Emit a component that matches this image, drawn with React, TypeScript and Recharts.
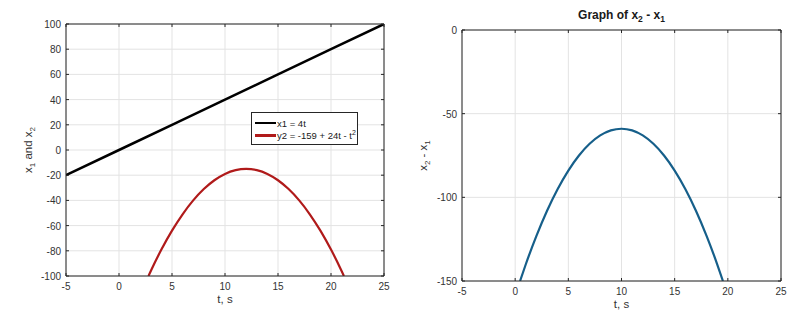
import React from 'react';
import { LineChart, Line, XAxis, YAxis, CartesianGrid, Legend } from 'recharts';

const T_X1 = [-5, 0, 5, 10, 15, 20, 25];
const X1_VALUES = [-20, 0, 20, 40, 60, 80, 100];

const T_X2 = [2.78, 3, 4, 5, 6, 7, 8, 9, 10, 11, 12, 13, 14, 15, 16, 17, 18, 19, 20, 21, 21.22];
const X2_VALUES = [-100, -96, -79, -64, -51, -40, -31, -24, -19, -16, -15, -16, -19, -24, -31, -40, -51, -64, -79, -96, -100];

const T_DIFF = [0.46, 1, 2, 3, 4, 5, 6, 7, 8, 9, 10, 11, 12, 13, 14, 15, 16, 17, 18, 19, 19.54];
const DIFF_VALUES = [-150, -140, -123, -108, -95, -84, -75, -68, -63, -60, -59, -60, -63, -68, -75, -84, -95, -108, -123, -140, -150];

const X_TICKS = [-5, 0, 5, 10, 15, 20, 25];
const Y_TICKS_LEFT = [-100, -80, -60, -40, -20, 0, 20, 40, 60, 80, 100];
const Y_TICKS_RIGHT = [-150, -100, -50, 0];

const NAME_X1 = 'x1 = 4t';
const NAME_X2 = 'y2 = -159 + 24t - t^2';

const x1Data = T_X1.map((t, i) => ({ t, v: X1_VALUES[i] }));
const x2Data = T_X2.map((t, i) => ({ t, v: X2_VALUES[i] }));
const diffData = T_DIFF.map((t, i) => ({ t, v: DIFF_VALUES[i] }));

const FONT = '"Liberation Sans", Arial, Helvetica, sans-serif';
const AXIS = '#262626';
const TXT = '#333333';
const GRID = '#e3e3e3';
const TICK_LEN = 3;
const TICK_FS = 10;

const BottomTick = (props: any) => {
  const { x, y, payload } = props;
  return (
    <g>
      <line x1={x} x2={x} y1={y} y2={y - TICK_LEN} stroke={AXIS} strokeWidth={1} />
      <text x={x} y={y + 14} textAnchor="middle" fill={TXT} fontSize={TICK_FS} fontFamily={FONT}>
        {payload.value}
      </text>
    </g>
  );
};

const TopTick = (props: any) => {
  const { x, y } = props;
  return <line x1={x} x2={x} y1={y} y2={y + TICK_LEN} stroke={AXIS} strokeWidth={1} />;
};

const LeftTick = (props: any) => {
  const { x, y, payload } = props;
  return (
    <g>
      <line x1={x} x2={x + TICK_LEN} y1={y} y2={y} stroke={AXIS} strokeWidth={1} />
      <text x={x - 5} y={y + 4} textAnchor="end" fill={TXT} fontSize={TICK_FS} fontFamily={FONT}>
        {payload.value}
      </text>
    </g>
  );
};

const RightTick = (props: any) => {
  const { x, y } = props;
  return <line x1={x} x2={x - TICK_LEN} y1={y} y2={y} stroke={AXIS} strokeWidth={1} />;
};

const xLabel = (props: any) => {
  const vb = props.viewBox || {};
  const cx = vb.x + vb.width / 2;
  return (
    <text x={cx} y={vb.y + 27} textAnchor="middle" fill={TXT} fontSize={11.5} fontFamily={FONT}>
      t, s
    </text>
  );
};

const makeYLabel = (dx: number, first: string, second: string, mid: string) => (props: any) => {
  const vb = props.viewBox || {};
  const cx = vb.x + dx;
  const cy = vb.y + vb.height / 2;
  return (
    <text
      x={cx}
      y={cy}
      transform={`rotate(-90 ${cx} ${cy})`}
      textAnchor="middle"
      fill={TXT}
      fontSize={11.5}
      fontFamily={FONT}
    >
      x<tspan dy={3} fontSize={8}>{first}</tspan>
      <tspan dy={-3}>{mid}x</tspan>
      <tspan dy={3} fontSize={8}>{second}</tspan>
    </text>
  );
};

const titleLabel = (props: any) => {
  const vb = props.viewBox || {};
  const cx = vb.x + vb.width / 2;
  return (
    <text x={cx} y={vb.y - 10} textAnchor="middle" fill="#1a1a1a" fontSize={12} fontWeight="bold" fontFamily={FONT}>
      Graph of x<tspan dy={3} fontSize={8.5}>2</tspan>
      <tspan dy={-3}> - x</tspan>
      <tspan dy={3} fontSize={8.5}>1</tspan>
    </text>
  );
};

const renderName = (name: string) => {
  const idx = name.indexOf('^');
  if (idx < 0) return name;
  return (
    <>
      {name.slice(0, idx)}
      <sup style={{ fontSize: 7, lineHeight: 0 }}>{name.slice(idx + 1)}</sup>
    </>
  );
};

const LegendBox = (props: any) => {
  const payload = props.payload || [];
  return (
    <div
      style={{
        boxSizing: 'border-box',
        width: 107,
        height: 33,
        border: `1px solid ${AXIS}`,
        background: '#fff',
        padding: '4px 0 0 3px',
        fontFamily: FONT,
        fontSize: 9.5,
        color: '#1a1a1a',
      }}
    >
      {payload.map((p: any) => (
        <div key={p.value} style={{ display: 'flex', alignItems: 'center', height: 12.3 }}>
          <span
            style={{
              display: 'inline-block',
              width: 21,
              height: 2.5,
              background: p.color,
              marginRight: 1,
            }}
          />
          <span style={{ whiteSpace: 'nowrap' }}>{renderName(p.value)}</span>
        </div>
      ))}
    </div>
  );
};

export default function App() {
  return (
    <div style={{ position: 'absolute', left: 0, top: 0, width: 800, height: 322, background: '#fff', fontFamily: FONT }}>
      <div style={{ position: 'absolute', left: 0, top: 0 }}>
        <LineChart width={400} height={322} margin={{ top: 23, right: 15, bottom: 16, left: 0 }}>
          <CartesianGrid xAxisId="b" yAxisId="l" stroke={GRID} strokeWidth={1} />
          <XAxis
            xAxisId="b"
            type="number"
            dataKey="t"
            domain={[-5, 25]}
            ticks={X_TICKS}
            allowDataOverflow
            height={30}
            tickSize={0}
            tickMargin={0}
            tickLine={false}
            axisLine={{ stroke: AXIS }}
            tick={BottomTick}
            interval={0}
            label={xLabel}
          />
          <XAxis
            xAxisId="t"
            orientation="top"
            type="number"
            dataKey="t"
            domain={[-5, 25]}
            ticks={X_TICKS}
            allowDataOverflow
            height={1}
            tickSize={0}
            tickMargin={0}
            tickLine={false}
            axisLine={{ stroke: AXIS }}
            tick={TopTick}
            interval={0}
          />
          <YAxis
            yAxisId="l"
            type="number"
            domain={[-100, 100]}
            ticks={Y_TICKS_LEFT}
            allowDataOverflow
            width={66}
            tickSize={0}
            tickMargin={0}
            tickLine={false}
            axisLine={{ stroke: AXIS }}
            tick={LeftTick}
            interval={0}
            label={makeYLabel(32, '1', '2', ' and ')}
          />
          <YAxis
            yAxisId="r"
            orientation="right"
            type="number"
            domain={[-100, 100]}
            ticks={Y_TICKS_LEFT}
            allowDataOverflow
            width={1}
            tickSize={0}
            tickMargin={0}
            tickLine={false}
            axisLine={{ stroke: AXIS }}
            tick={RightTick}
            interval={0}
          />
          <Line
            xAxisId="b"
            yAxisId="l"
            data={x1Data}
            dataKey="v"
            name={NAME_X1}
            stroke="#000000"
            strokeWidth={2.5}
            dot={false}
            type="linear"
            isAnimationActive={false}
          />
          <Line
            xAxisId="b"
            yAxisId="l"
            data={x2Data}
            dataKey="v"
            name={NAME_X2}
            stroke="#b01a1a"
            strokeWidth={2.2}
            dot={false}
            type="monotone"
            isAnimationActive={false}
          />
          <Legend
            layout="vertical"
            align="center"
            verticalAlign="middle"
            content={LegendBox}
            wrapperStyle={{ left: 251, top: 112, width: 107, height: 33 }}
          />
        </LineChart>
      </div>
      <div style={{ position: 'absolute', left: 400, top: 0 }}>
        <LineChart width={400} height={322} margin={{ top: 29, right: 18, bottom: 11, left: 0 }}>
          <CartesianGrid xAxisId="b" yAxisId="l" stroke={GRID} strokeWidth={1} />
          <XAxis
            xAxisId="b"
            type="number"
            dataKey="t"
            domain={[-5, 25]}
            ticks={X_TICKS}
            allowDataOverflow
            height={30}
            tickSize={0}
            tickMargin={0}
            tickLine={false}
            axisLine={{ stroke: AXIS }}
            tick={BottomTick}
            interval={0}
            label={xLabel}
          />
          <XAxis
            xAxisId="t"
            orientation="top"
            type="number"
            dataKey="t"
            domain={[-5, 25]}
            ticks={X_TICKS}
            allowDataOverflow
            height={1}
            tickSize={0}
            tickMargin={0}
            tickLine={false}
            axisLine={{ stroke: AXIS }}
            tick={TopTick}
            interval={0}
            label={titleLabel}
          />
          <YAxis
            yAxisId="l"
            type="number"
            domain={[-150, 0]}
            ticks={Y_TICKS_RIGHT}
            allowDataOverflow
            width={62}
            tickSize={0}
            tickMargin={0}
            tickLine={false}
            axisLine={{ stroke: AXIS }}
            tick={LeftTick}
            interval={0}
            label={makeYLabel(27, '2', '1', ' - ')}
          />
          <YAxis
            yAxisId="r"
            orientation="right"
            type="number"
            domain={[-150, 0]}
            ticks={Y_TICKS_RIGHT}
            allowDataOverflow
            width={1}
            tickSize={0}
            tickMargin={0}
            tickLine={false}
            axisLine={{ stroke: AXIS }}
            tick={RightTick}
            interval={0}
          />
          <Line
            xAxisId="b"
            yAxisId="l"
            data={diffData}
            dataKey="v"
            name="x2 - x1"
            stroke="#165f8a"
            strokeWidth={2.2}
            dot={false}
            type="monotone"
            isAnimationActive={false}
          />
        </LineChart>
      </div>
    </div>
  );
}
